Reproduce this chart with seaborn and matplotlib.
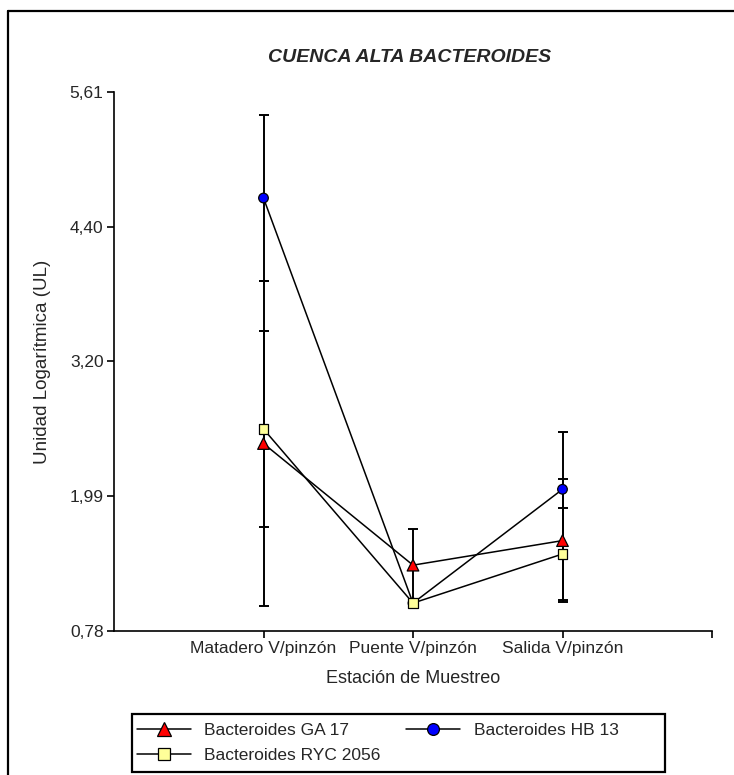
import matplotlib
matplotlib.use("Agg")
import matplotlib.pyplot as plt
import seaborn as sns
import pandas as pd
from matplotlib.patches import Rectangle
from matplotlib.lines import Line2D

# values
stations = ['Matadero V/pinzón', 'Puente V/pinzón', 'Salida V/pinzón']
ga17 = [2.46, 1.37, 1.59]
ga17_err = [1.46, 0.32, 0.55]
hb13 = [4.66, 1.03, 2.05]
hb13_err = [0.74, 0.0, 0.51]
ryc2056 = [2.59, 1.03, 1.47]
ryc2056_err = [0.88, 0.0, 0.41]
series_names = ['Bacteroides GA 17', 'Bacteroides HB 13', 'Bacteroides RYC 2056']
yticks = [0.78, 1.99, 3.20, 4.40, 5.61]
ytick_labels = ['0,78', '1,99', '3,20', '4,40', '5,61']

colors = {'Bacteroides GA 17': '#FF0000', 'Bacteroides HB 13': '#0000FF',
          'Bacteroides RYC 2056': '#FFFF99'}
markers = {'Bacteroides GA 17': '^', 'Bacteroides HB 13': 'o',
           'Bacteroides RYC 2056': 's'}
sizes = {'Bacteroides GA 17': 70, 'Bacteroides HB 13': 48,
         'Bacteroides RYC 2056': 44}

# long format table
frames = []
for name, vals, errs in zip(series_names, [ga17, hb13, ryc2056],
                            [ga17_err, hb13_err, ryc2056_err]):
    frames.append(pd.DataFrame({'station': stations, 'value': vals,
                                'err': errs, 'serie': name}))
df = pd.concat(frames, ignore_index=True)

sns.set_style("white")
plt.rcParams['font.family'] = ['Liberation Sans', 'DejaVu Sans']

fig = plt.figure(figsize=(7.34, 7.75), dpi=100)
ax = fig.add_axes([114 / 734, 1 - 631 / 775, 598 / 734, 539 / 775])

# error bars
for name, g in df.groupby('serie', sort=False):
    ax.errorbar(g['station'], g['value'], yerr=g['err'], fmt='none',
                ecolor='black', elinewidth=1.4, capsize=3.6, capthick=1.4,
                zorder=2)

# connecting lines
sns.lineplot(data=df, x='station', y='value', units='serie', estimator=None,
             sort=False, color='black', lw=1.1, legend=False, ax=ax, zorder=3)

# markers
sns.scatterplot(data=df, x='station', y='value', hue='serie', style='serie',
                size='serie', palette=colors, markers=markers, sizes=sizes,
                edgecolor='black', linewidth=0.9, legend=False, ax=ax, zorder=4)

ax.set_xlim(-1, 3)
ax.set_ylim(yticks[0], yticks[-1])
ax.set_xticks([0, 1, 2, 3])
ax.set_xticklabels(stations + [''], fontsize=12.5)
ax.set_yticks(yticks)
ax.set_yticklabels(ytick_labels, fontsize=12.5)
ax.tick_params(axis='both', direction='out', length=5, width=1.2,
               color='black', pad=2.5, bottom=True, left=True)
for side in ['top', 'right']:
    ax.spines[side].set_visible(False)
for side in ['left', 'bottom']:
    ax.spines[side].set_color('black')
    ax.spines[side].set_linewidth(1.2)

ax.set_xlabel('Estación de Muestreo', fontsize=13)
ax.set_ylabel('Unidad Logarítmica (UL)', fontsize=13.5)
ax.xaxis.set_label_coords(0.5, -0.072)
ax.yaxis.set_label_coords(-0.105, 0.5)

fig.text(410 / 734, 1 - 57 / 775, 'CUENCA ALTA BACTEROIDES', ha='center',
         va='center', fontsize=14, fontweight='bold', fontstyle='italic')

# legend
handles = []
for name in ['Bacteroides GA 17', 'Bacteroides RYC 2056', 'Bacteroides HB 13']:
    ms = {'^': 10, 'o': 8.5, 's': 8}[markers[name]]
    handles.append(Line2D([0], [0], color='black', lw=1.1,
                          marker=markers[name], markersize=ms,
                          markerfacecolor=colors[name],
                          markeredgecolor='black', markeredgewidth=0.9,
                          label=name))
fig.legend(handles=handles, ncol=2, loc='upper left',
           bbox_to_anchor=(135 / 734, 1 - 721 / 775), frameon=False,
           fontsize=12.5, handlelength=3.1, handletextpad=0.8,
           columnspacing=1.45, labelspacing=0.55, borderpad=0.1,
           borderaxespad=0)
fig.add_artist(Rectangle((132 / 734, 1 - 772 / 775), 533 / 734, 58 / 775,
                         transform=fig.transFigure, fill=False,
                         edgecolor='black', lw=1.6))

# outer frame
fig.add_artist(Line2D([8 / 734, 8 / 734], [0, 1 - 11 / 775],
                      transform=fig.transFigure, color='black', lw=1.6))
fig.add_artist(Line2D([8 / 734, 1], [1 - 11 / 775, 1 - 11 / 775],
                      transform=fig.transFigure, color='black', lw=1.6))

fig.savefig('out.png', dpi=100)
